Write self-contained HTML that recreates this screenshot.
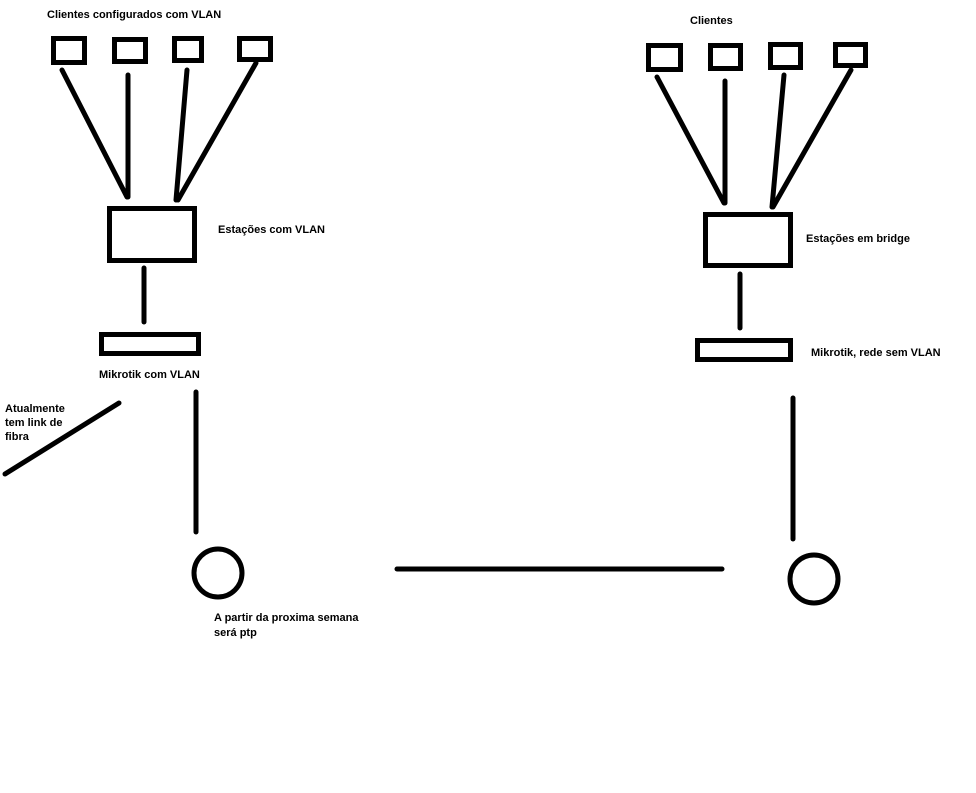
<!DOCTYPE html>
<html><head><style>body{margin:0;background:#fff}svg{display:block}text{font-family:"Liberation Sans",sans-serif;font-weight:bold;font-size:11px;fill:#000}</style></head>
<body>
<svg width="976" height="793" viewBox="0 0 976 793" xmlns="http://www.w3.org/2000/svg">
<g fill="none" stroke="#000" stroke-width="5">
<rect x="53.5" y="38.5" width="31" height="24"/>
<rect x="114.5" y="39.5" width="31" height="22"/>
<rect x="174.5" y="38.5" width="27" height="22"/>
<rect x="239.5" y="38.5" width="31" height="21"/>
<rect x="109.5" y="208.5" width="85" height="52"/>
<rect x="101.5" y="334.5" width="97" height="19"/>
<rect x="648.5" y="45.5" width="32" height="24"/>
<rect x="710.5" y="45.5" width="30" height="23"/>
<rect x="770.5" y="44.5" width="30" height="23"/>
<rect x="835.5" y="44.5" width="30" height="21"/>
<rect x="705.5" y="214.5" width="85" height="51"/>
<rect x="697.5" y="340.5" width="93" height="19"/>
<circle cx="218" cy="573" r="24"/>
<circle cx="814" cy="579" r="24"/>
</g>
<g stroke="#000" stroke-width="5" stroke-linecap="round">
<line x1="62" y1="70" x2="127" y2="197"/>
<line x1="128" y1="75" x2="128" y2="197"/>
<line x1="187" y1="70" x2="176" y2="200"/>
<line x1="256" y1="63" x2="178" y2="200"/>
<line x1="144" y1="268" x2="144" y2="322"/>
<line x1="196" y1="392" x2="196" y2="532"/>
<line x1="5" y1="474" x2="119" y2="403"/>
<line x1="397" y1="569" x2="722" y2="569"/>
<line x1="793" y1="398" x2="793" y2="539"/>
<line x1="657" y1="77" x2="724" y2="203"/>
<line x1="725" y1="81" x2="725" y2="203"/>
<line x1="784" y1="75" x2="772" y2="207"/>
<line x1="851" y1="70" x2="773" y2="207"/>
<line x1="740" y1="274" x2="740" y2="328"/>
</g>
<text x="47" y="18">Clientes configurados com VLAN</text>
<text x="218" y="233">Estações com VLAN</text>
<text x="99" y="378">Mikrotik com VLAN</text>
<text x="5" y="412">Atualmente</text>
<text x="5" y="426">tem link de</text>
<text x="5" y="440">fibra</text>
<text x="214" y="621">A partir da proxima semana</text>
<text x="214" y="636">será ptp</text>
<text x="690" y="24">Clientes</text>
<text x="806" y="242">Estações em bridge</text>
<text x="811" y="356">Mikrotik, rede sem VLAN</text>
</svg>
</body></html>
